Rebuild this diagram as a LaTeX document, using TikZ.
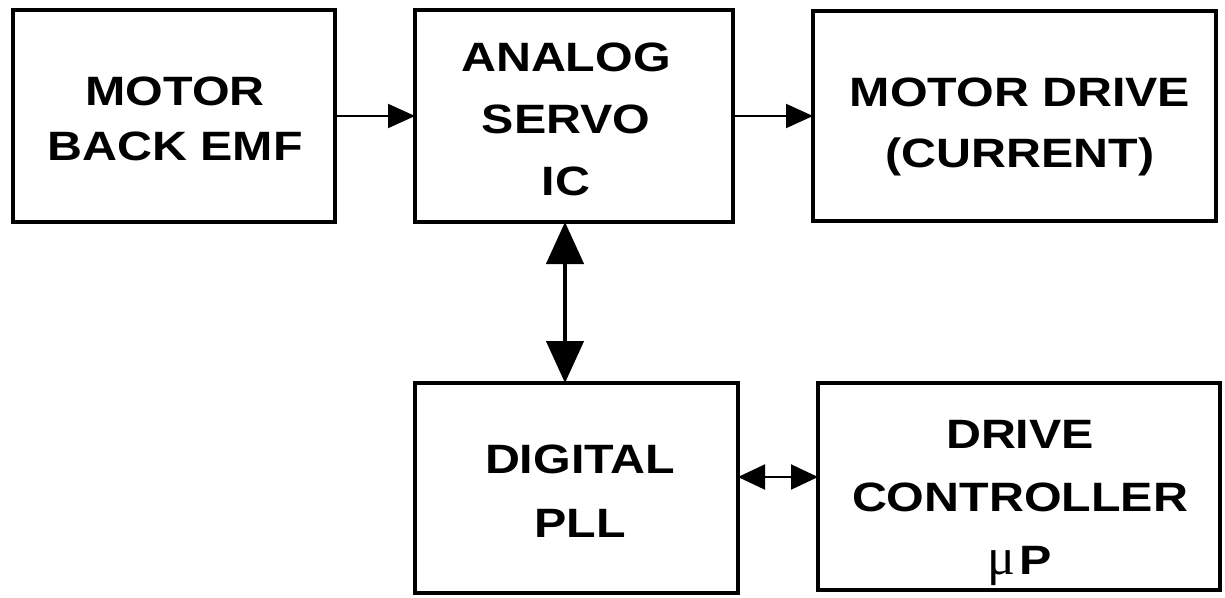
\documentclass[tikz,border=0pt]{standalone}
\usepackage{fontspec}
\setmainfont{Liberation Sans}
\newfontfamily\lblfont[FakeStretch=1.18]{Liberation Sans}
\newfontfamily\mufont{Liberation Serif}
\usetikzlibrary{arrows.meta,calc}

\begin{document}
\begin{tikzpicture}[x=1pt,y=-1pt,
  box/.style={draw, line width=3.5pt, inner sep=0pt, outer sep=0pt},
  lbl/.style={inner sep=0pt, anchor=north, align=center,
              font=\lblfont\bfseries\fontsize{41}{#1}\selectfont},
  thinarrow/.style={line width=2pt, -{Triangle[length=27pt,width=24pt]}},
  dblarrow/.style={line width=2pt,
     {Triangle[length=27pt,width=25pt]}-{Triangle[length=27pt,width=25pt]}},
  bigarrow/.style={line width=4.5pt,
     {Triangle[length=42pt,width=37pt]}-{Triangle[length=42pt,width=37pt]}}]

  % canvas
  \fill[white] (0,0) rectangle (1225,597);
  \useasboundingbox (0,0) rectangle (1225,597);

  % blocks
  \node[box, minimum width=322pt, minimum height=212pt] (b1) at (174,116) {};
  \node[box, minimum width=318pt, minimum height=212pt] (b2) at (574,116) {};
  \node[box, minimum width=403pt, minimum height=210pt] (b3) at (1014.5,116) {};
  \node[box, minimum width=323pt, minimum height=210pt] (b4) at (576.5,488) {};
  \node[box, minimum width=402pt, minimum height=207pt] (b5) at (1019,486.5) {};

  % block captions
  \node[lbl=55] (t1) at (175,77) {MOTOR\\BACK EMF};
  \node[lbl=62] (t2) at (566,43) {ANALOG\\SERVO\\IC};
  \node[lbl=61] (t3) at (1020,78) {MOTOR DRIVE\\(CURRENT)};
  \node[lbl=64] (t4) at (580,445) {DIGITAL\\PLL};
  \node[lbl=63] (t5) at (1020,420)
    {DRIVE\\CONTROLLER\\{\mufont\mdseries\fontsize{52}{52}\selectfont μ}\hspace{4pt}P};

  % signal paths
  \coordinate (xv) at (565,300);
  \coordinate (yh) at (778,477);
  \draw[thinarrow] (b1) -- (b2);
  \draw[thinarrow] (b2) -- (b3);
  \draw[bigarrow] (b2.south -| xv) -- (b4.north -| xv);
  \draw[dblarrow] (b4.east |- yh) -- (b5.west |- yh);
\end{tikzpicture}
\end{document}
